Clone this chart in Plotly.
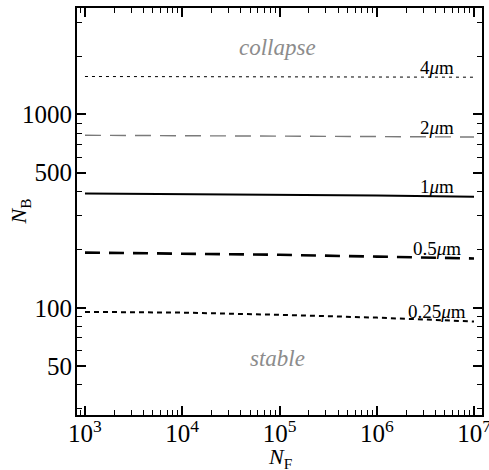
import numpy as np
import plotly.graph_objects as go

# Number of fermions (x) and critical boson number (y) for each trap length
n_f = [1e3, 1e4, 1e5, 1e6, 1e7]
n_b_4um = [1570, 1567, 1563, 1560, 1557]
n_b_2um = [780, 777, 773, 769, 764]
n_b_1um = [390, 388, 386, 381, 375]
n_b_05um = [193, 191, 188, 184, 180]
n_b_025um = [95.3, 94.5, 92, 89, 85]

labels = ["4<i>μ</i>m", "2<i>μ</i>m", "1<i>μ</i>m", "0.5<i>μ</i>m", "0.25<i>μ</i>m"]

x_tickvals = [1e3, 1e4, 1e5, 1e6, 1e7]
x_ticktext = ["10<sup>3</sup>", "10<sup>4</sup>", "10<sup>5</sup>", "10<sup>6</sup>", "10<sup>7</sup>"]
y_tickvals = [50, 100, 500, 1000]
y_ticktext = ["50", "100", "500", "1000"]

series = [n_b_4um, n_b_2um, n_b_1um, n_b_05um, n_b_025um]
styles = [
    dict(color="black", width=1, dash="3px,4px"),
    dict(color="#7a7a7a", width=1.4, dash="16px,9px"),
    dict(color="black", width=2, dash="solid"),
    dict(color="black", width=2.6, dash="15px,9px"),
    dict(color="black", width=2, dash="5px,4px"),
]

FONT = "Liberation Serif, Times New Roman, serif"

fig = go.Figure()
for ys, st in zip(series, styles):
    fig.add_trace(go.Scatter(x=n_f, y=ys, mode="lines", line=st,
                             showlegend=False, hoverinfo="skip"))

# curve labels just above the right end of each line
for ys, lab in zip(series, labels):
    fig.add_annotation(x=6.62, y=np.log10(ys[-1]), text=lab, showarrow=False,
                       xanchor="center", yanchor="middle", yshift=10,
                       font=dict(family=FONT, size=19, color="black"))

# region labels
fig.add_annotation(x=4.98, y=np.log10(2213), text="<i>collapse</i>", showarrow=False,
                   font=dict(family=FONT, size=23, color="#8c8c8c"))
fig.add_annotation(x=4.98, y=np.log10(55), text="<i>stable</i>", showarrow=False,
                   font=dict(family=FONT, size=23, color="#8c8c8c"))

# axis titles
fig.add_annotation(xref="paper", yref="paper", x=0.5, y=-0.069, yanchor="top",
                   text="<i>N</i><sub>F</sub>", showarrow=False, borderpad=0,
                   font=dict(family=FONT, size=22, color="black"))
fig.add_annotation(xref="paper", yref="paper", x=-0.141, y=0.5, xanchor="center",
                   text="<i>N</i><sub>B</sub>", showarrow=False, textangle=-90,
                   font=dict(family=FONT, size=22, color="black"))

x_minor = [9e2] + [m * 10 ** k for k in range(3, 7) for m in range(2, 10)]
y_minor = [30, 40, 60, 70, 80, 90, 200, 300, 400, 600, 700, 800, 900, 2000, 3000]

axis_common = dict(
    showline=True, linecolor="black", linewidth=2, mirror="allticks",
    ticks="inside", ticklen=9, tickwidth=1.6, tickcolor="black",
    showgrid=False, zeroline=False, automargin=False,
    ticklabeloverflow="allow",
    tickfont=dict(family=FONT, size=25, color="black"),
)

fig.update_xaxes(type="log", range=[2.918, 7.082],
                 tickvals=x_tickvals, ticktext=x_ticktext, ticklabelstandoff=-5,
                 minor=dict(tickvals=x_minor, ticks="inside", ticklen=5,
                            tickwidth=1.4, tickcolor="black", showgrid=False),
                 **axis_common)
fig.update_yaxes(type="log", range=[1.446, 3.55],
                 tickvals=y_tickvals, ticktext=y_ticktext, ticklabelstandoff=-2,
                 minor=dict(tickvals=y_minor, ticks="inside", ticklen=5,
                            tickwidth=1.4, tickcolor="black", showgrid=False),
                 **axis_common)

fig.update_layout(
    width=489, height=470,
    margin=dict(l=77, r=7, t=8, b=55),
    plot_bgcolor="white", paper_bgcolor="white",
    font=dict(family=FONT, color="black"),
)

fig.write_html("out.html")
